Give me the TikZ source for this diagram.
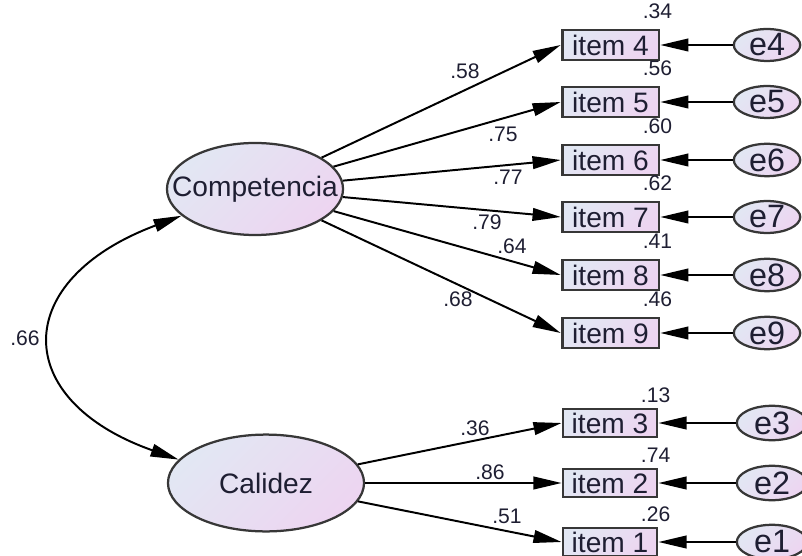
\documentclass[tikz,border=0pt]{standalone}
\usepackage{fontspec}
\setmainfont{Liberation Sans}
\usetikzlibrary{arrows.meta,shapes.geometric}
\definecolor{lbl}{RGB}{30,30,50}
\definecolor{fillA}{RGB}{226,231,243}
\definecolor{fillB}{RGB}{237,213,241}
\definecolor{edge}{RGB}{55,55,55}
\tikzset{
	latent/.style = {ellipse, draw=edge, line width=0.8pt, left color=fillA, right color=fillB, shading angle=45, text=lbl, inner sep=0pt},
	obsbox/.style = {rectangle, draw=edge, line width=1pt, left color=fillA, right color=fillB, shading angle=45, text=lbl, inner sep=0pt, minimum width=1.21cm, minimum height=0.375cm},
	errnode/.style = {latent, font=\fontsize{11.5}{13}\selectfont, minimum width=0.83cm, minimum height=0.39cm},
	regarrow/.style = {-{Triangle[length=10pt, width=4.5pt]}, line width=0.7pt},
	coef/.style = {font=\fontsize{7.5}{9}\selectfont, text=lbl}
}
\begin{document}
\begin{tikzpicture}[x=0.0125cm, y=-0.0125cm]
	\useasboundingbox (0,0) rectangle (802,556);
	% factors
	\node[latent, minimum width=2.2cm, minimum height=1.15cm] (comp) at (255,189) {\makebox[0pt]{Competencia}};
	\node[latent, minimum width=2.45cm, minimum height=1.21cm] (cal) at (266,483) {\makebox[0pt]{Calidez}};
	% items of Competencia
	\foreach \n/\y/\v in {4/45/.34, 5/102/.56, 6/160/.60, 7/217/.62, 8/275/.41, 9/333/.46} {
		\node[obsbox] (item\n) at (610.5,\y) {item \n};
		\node[errnode] (e\n) at (767,\y) {\makebox[0pt]{e\n}};
		\node[coef, above, xshift=-1pt] (r\n) at (item\n.north east) {\v};
		\draw[regarrow] (e\n) -- (item\n);
		\draw[regarrow] (comp) -- (item\n.west);
	}
	% items of Calidez
	\foreach \n/\y/\v in {3/423/.13, 2/483/.74, 1/542/.26} {
		\node[obsbox, minimum width=1.175cm, minimum height=0.35cm] (item\n) at (610,\y) {item \n};
		\node[errnode, minimum width=0.88cm, minimum height=0.43cm] (e\n) at (772,\y) {\makebox[0pt]{e\n}};
		\node[coef, above, xshift=-1pt, inner sep=1.5pt] (r\n) at (item\n.north east) {\v};
		\draw[regarrow] (e\n) -- (item\n);
		\draw[regarrow] (cal) -- (item\n.west);
	}
	% loadings
	\node[coef] (l4) at (465,71) {.58};
	\node[coef] (l5) at (503,134) {.75};
	\node[coef] (l6) at (508,177) {.77};
	\node[coef] (l7) at (487,222) {.79};
	\node[coef] (l8) at (512,246) {.64};
	\node[coef] (l9) at (458,299) {.68};
	\node[coef] (l3) at (475,428) {.36};
	\node[coef] (l2) at (490,472) {.86};
	\node[coef] (l1) at (507,516) {.51};
	% correlation
	\draw[{Triangle[length=10pt, width=4.5pt]}-{Triangle[length=10pt, width=4.5pt]}, line width=0.7pt] (comp.200) .. controls (10,280) and (10,400) .. (cal.165);
	\node[coef] (corr) at (25,338) {.66};
\end{tikzpicture}
\end{document}
